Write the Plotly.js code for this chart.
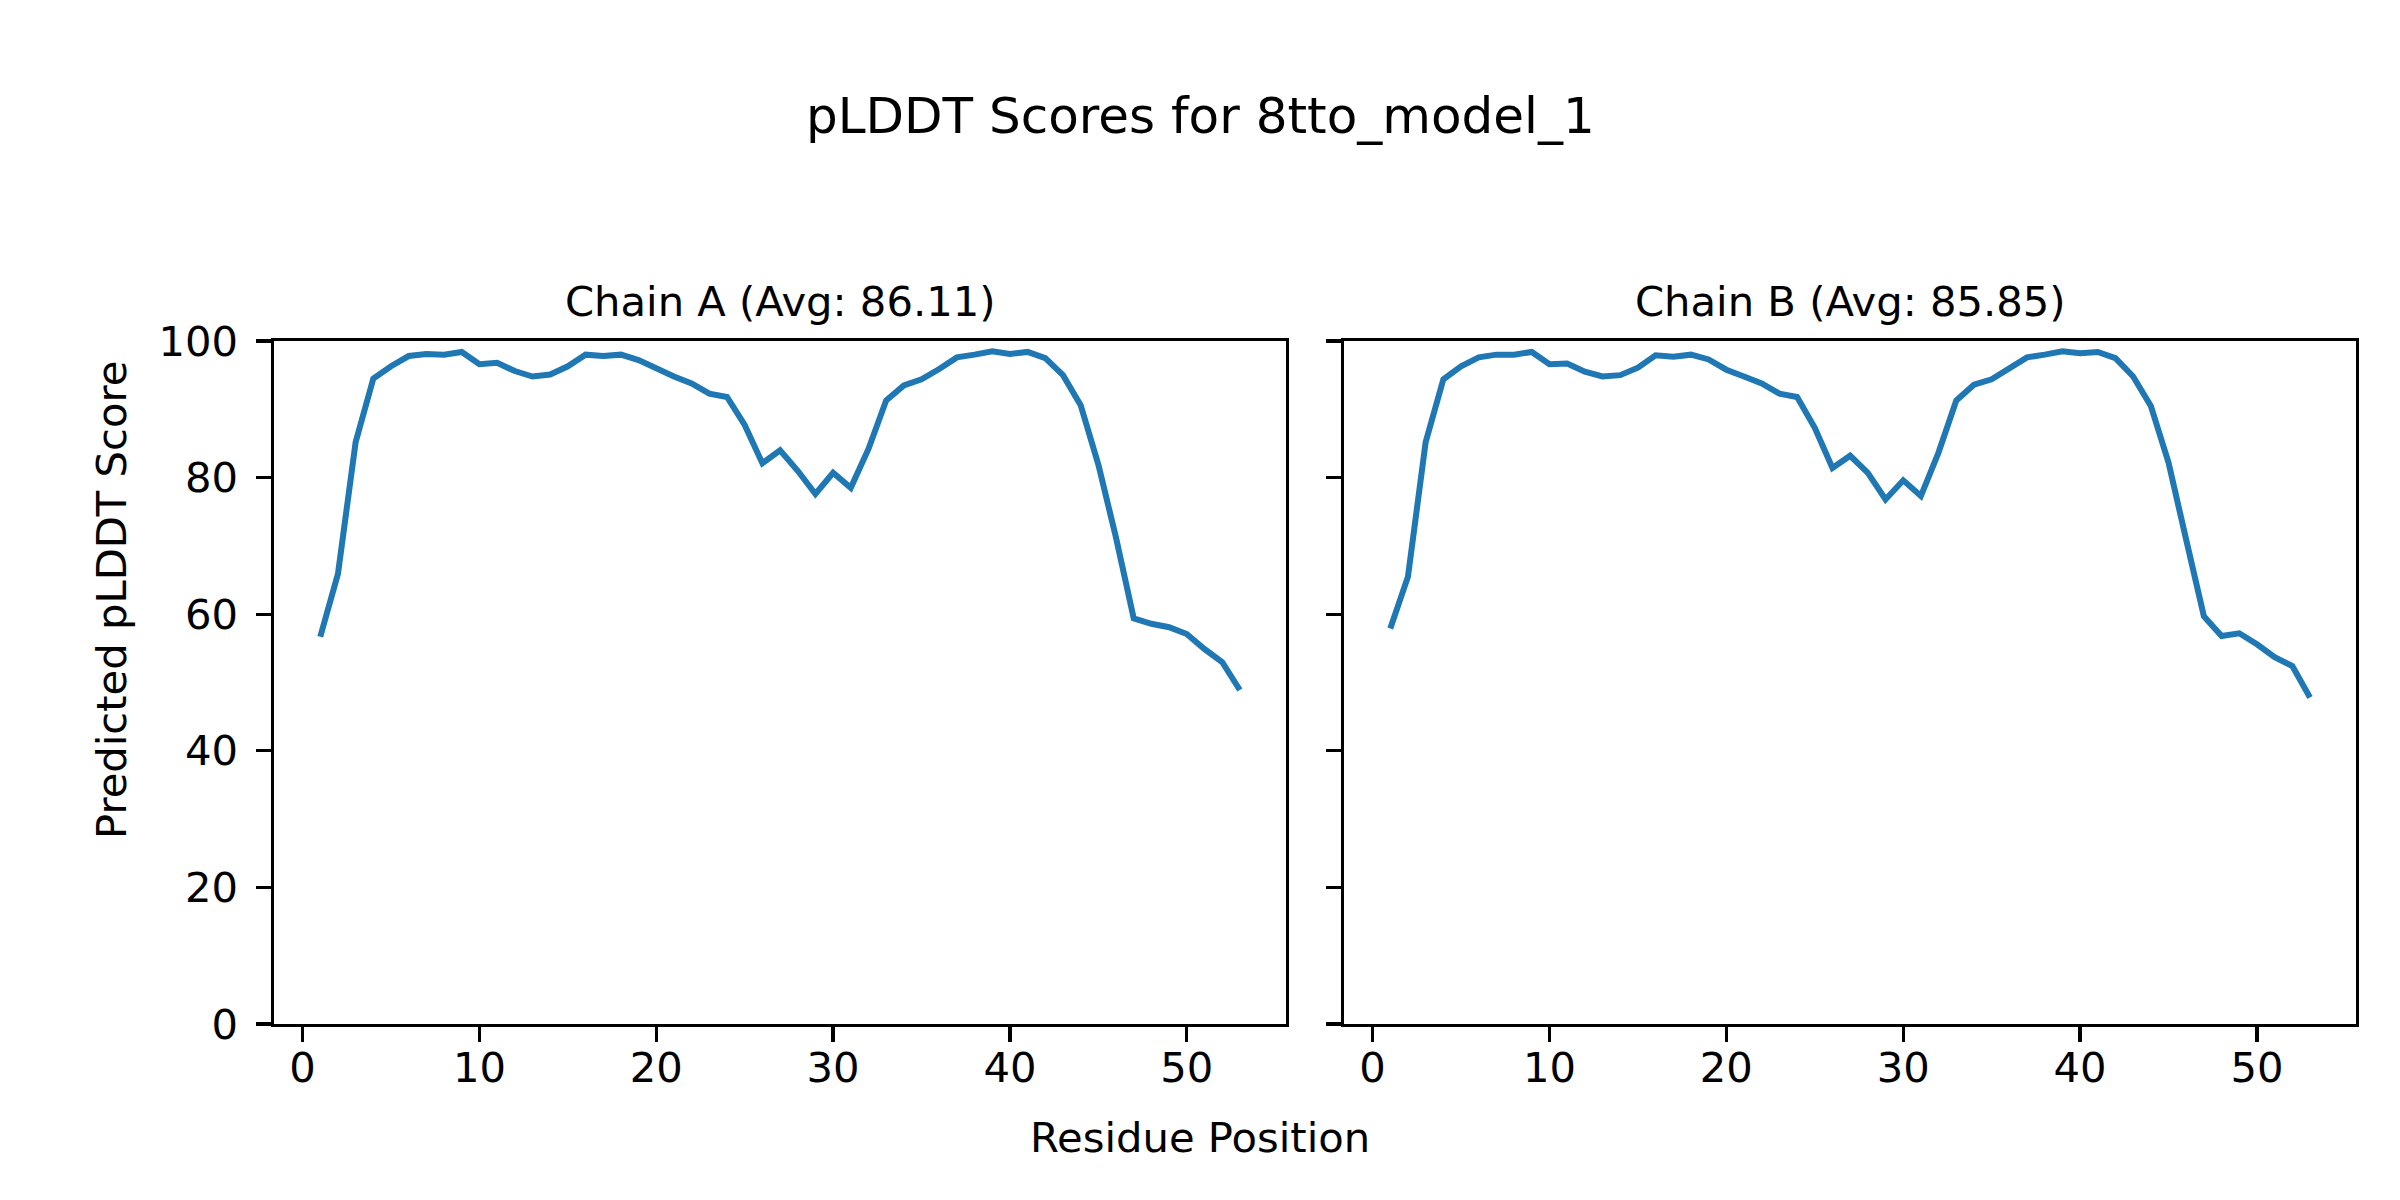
<!DOCTYPE html>
<html>
<head>
<meta charset="utf-8">
<script src="https://cdn.plot.ly/plotly-3.0.1.min.js"></script>
<style>html,body{margin:0;padding:0;background:#fff;}#chart{width:2400px;height:1200px;}</style>
</head>
<body>
<div id="chart"></div>
<script>
const residues = [1,2,3,4,5,6,7,8,9,10,11,12,13,14,15,16,17,18,19,20,21,22,23,24,25,26,27,28,29,30,31,32,33,34,35,36,37,38,39,40,41,42,43,44,45,46,47,48,49,50,51,52,53];
const chainA = [56.7,65.9,85.2,94.5,96.3,97.8,98.1,98.0,98.4,96.6,
                96.8,95.6,94.8,95.1,96.3,98.0,97.8,98.0,97.2,95.9,
                94.8,93.8,92.3,91.8,87.7,82.1,84.0,81.0,77.6,80.7,
                78.5,84.2,91.3,93.5,94.4,95.9,97.6,98.0,98.5,98.1,
                98.4,97.5,95.0,90.6,81.9,71.2,59.4,58.6,58.1,57.1,
                54.9,53.0,48.9];
const chainB = [57.9,65.5,85.2,94.4,96.3,97.6,98.0,98.0,98.4,96.6,
                96.7,95.5,94.8,95.0,96.1,97.9,97.7,98.0,97.3,95.8,
                94.8,93.8,92.3,91.8,87.3,81.4,83.2,80.7,76.8,79.6,
                77.3,83.7,91.3,93.6,94.4,95.9,97.6,98.0,98.5,98.2,
                98.4,97.5,94.8,90.5,82.2,70.9,59.7,56.8,57.2,55.6,
                53.7,52.4,47.8];
const mainTitle = "pLDDT Scores for 8tto_model_1";
const titleA = "Chain A (Avg: 86.11)";
const titleB = "Chain B (Avg: 85.85)";
const xLabel = "Residue Position";
const yLabel = "Predicted pLDDT Score";

const W = 2400, H = 1200;
const FONT = "DejaVu Sans, sans-serif";
const px = v => v / W, py = v => 1 - v / H;

const lineStyle = {color: '#1f77b4', width: 6};
const traces = [
  {x: residues, y: chainA, type: 'scatter', mode: 'lines', line: lineStyle, xaxis: 'x', yaxis: 'y', hoverinfo: 'skip'},
  {x: residues, y: chainB, type: 'scatter', mode: 'lines', line: lineStyle, xaxis: 'x2', yaxis: 'y2', hoverinfo: 'skip'}
];

const axCommon = {
  showline: true, mirror: true, linecolor: '#000', linewidth: 3.3,
  ticks: 'outside', ticklen: 14.6, tickwidth: 3.3, tickcolor: '#000',
  showgrid: false, zeroline: false, fixedrange: true,
  tickfont: {family: FONT, size: 41.7, color: '#000'}
};
const yDom = [py(1024), py(341)];
const layout = {
  width: W, height: H,
  margin: {l: 0, r: 0, t: 0, b: 0},
  paper_bgcolor: '#fff', plot_bgcolor: '#fff',
  showlegend: false,
  font: {family: FONT, color: '#000'},
  xaxis: Object.assign({}, axCommon, {domain: [px(274.3), px(1285.8)], range: [-1.6, 55.6], dtick: 10, tick0: 0, anchor: 'y', ticklabelstandoff: -10}),
  xaxis2: Object.assign({}, axCommon, {domain: [px(1344.3), px(2356)], range: [-1.6, 55.6], dtick: 10, tick0: 0, anchor: 'y2', ticklabelstandoff: -10}),
  yaxis: Object.assign({}, axCommon, {domain: yDom, range: [0, 100], dtick: 20, tick0: 0, anchor: 'x', ticklabelstandoff: 10}),
  yaxis2: Object.assign({}, axCommon, {domain: yDom, range: [0, 100], dtick: 20, tick0: 0, anchor: 'x2', showticklabels: false}),
  annotations: [
    {text: mainTitle, xref: 'paper', yref: 'paper', x: 0.5, y: py(116), xanchor: 'center', yanchor: 'middle', showarrow: false, font: {family: FONT, size: 50, color: '#000'}},
    {text: titleA, xref: 'paper', yref: 'paper', x: px(780), y: py(301), xanchor: 'center', yanchor: 'middle', showarrow: false, font: {family: FONT, size: 41.7, color: '#000'}},
    {text: titleB, xref: 'paper', yref: 'paper', x: px(1850), y: py(301), xanchor: 'center', yanchor: 'middle', showarrow: false, font: {family: FONT, size: 41.7, color: '#000'}},
    {text: xLabel, xref: 'paper', yref: 'paper', x: 0.5, y: py(1137), xanchor: 'center', yanchor: 'middle', showarrow: false, font: {family: FONT, size: 41.7, color: '#000'}},
    {text: yLabel, xref: 'paper', yref: 'paper', x: px(111), y: 0.5, xanchor: 'center', yanchor: 'middle', textangle: -90, showarrow: false, font: {family: FONT, size: 41.7, color: '#000'}}
  ]
};
Plotly.newPlot('chart', traces, layout, {staticPlot: true, displayModeBar: false});
</script>
</body>
</html>
